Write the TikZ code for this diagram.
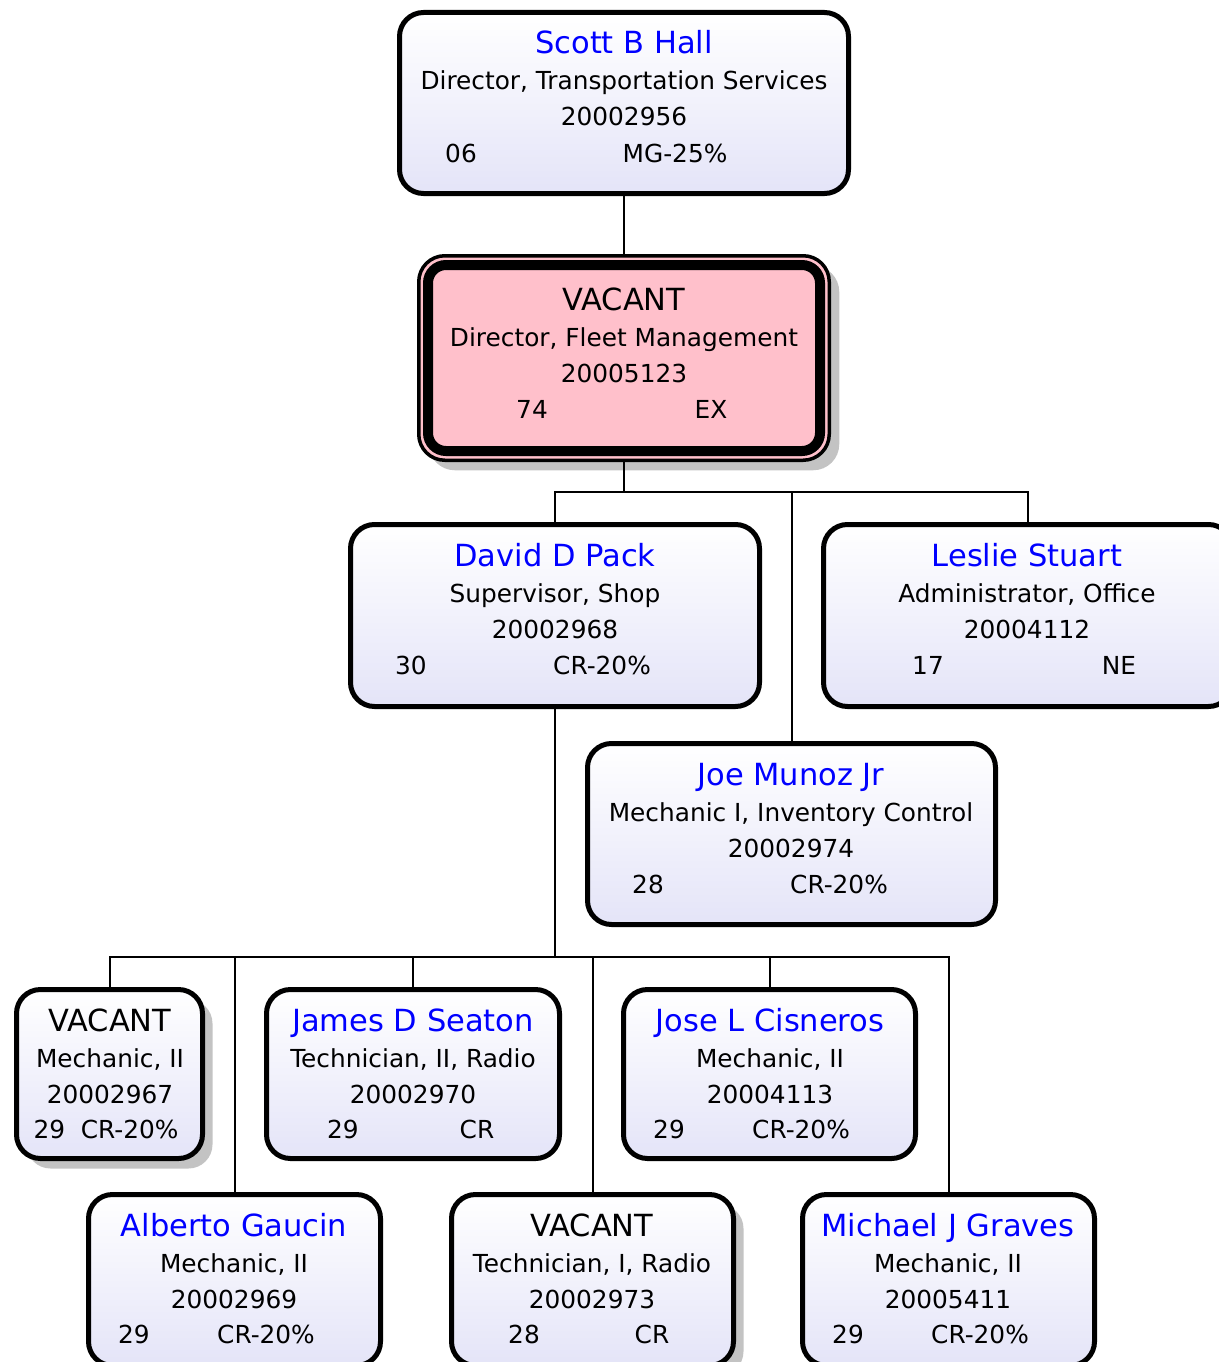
\documentclass[tikz,border=0pt]{standalone}
\usepackage{fontspec}
\setmainfont{DejaVu Sans}
\usetikzlibrary{calc,shadows}
\definecolor{lav}{RGB}{228,228,248}
\definecolor{namblue}{RGB}{0,0,255}
\definecolor{vpink}{RGB}{255,192,203}
\definecolor{shgray}{RGB}{195,195,195}
\tikzset{
  box/.style={draw=black, line width=5pt, rounded corners=24pt, top color=white, bottom color=lav, inner sep=0pt},
  vbox/.style={box, general shadow={shadow xshift=10pt, shadow yshift=-10pt, fill=shgray}},
  nm/.style={anchor=base, font=\fontsize{30.5}{36}\selectfont, text=namblue, inner sep=0pt},
  vc/.style={nm, text=black},
  tx/.style={anchor=base, font=\fontsize{24.8}{29}\selectfont, inner sep=0pt},
  link/.style={line width=2pt, draw=black},
}
% id, style, x1, y1, x2, y2
\newcommand\orgbox[6]{%
  \node[#2, minimum width={#5-#3-5}, minimum height={#6-#4-5}] (#1) at ({(#3+#5)/2},{(#4+#6)/2}) {};}
% id, cx, baseline of name, name style, name, title, number
\newcommand\orgtext[7]{%
  \node[#4] (#1-name) at (#2,{#3}) {#5};
  \node[tx] (#1-title) at (#2,{#3+36}) {#6};
  \node[tx] (#1-num) at (#2,{#3+72}) {#7};}
% id, baseline, left x, left text, right x, right text
\newcommand\orgrow[6]{%
  \node[tx] (#1-l) at (#3,{#2}) {#4};
  \node[tx] (#1-r) at (#5,{#2}) {#6};}
\begin{document}
\begin{tikzpicture}[x=1pt,y=-1pt]
\useasboundingbox (0,0) rectangle (1218,1362);

% top
\orgbox{scott}{box}{397}{10}{851}{196}
\orgtext{scott}{624}{54}{nm}{Scott B Hall}{Director, Transportation Services}{20002956}
\orgrow{scott}{162}{461}{06}{675}{MG-25\%}

% director vacant
\node[draw=black, line width=3.5pt, rounded corners=26pt, fill=vpink, inner sep=0pt,
      general shadow={shadow xshift=10pt, shadow yshift=-10pt, fill=shgray},
      minimum width=410.5, minimum height=204.5] (dir) at (624,358) {};
\draw[line width=10pt, rounded corners=18pt] (428,265) rectangle (820,451);
\orgtext{dir}{624}{310}{vc}{VACANT}{Director, Fleet Management}{20005123}
\orgrow{dir}{418}{532}{74}{711}{EX}

% second level
\orgbox{david}{box}{348}{522}{762}{709}
\orgtext{david}{555}{566}{nm}{David D Pack}{Supervisor, Shop}{20002968}
\orgrow{david}{674}{411}{30}{602}{CR-20\%}

\orgbox{leslie}{box}{821}{522}{1235}{709}
\orgtext{leslie}{1027}{566}{nm}{Leslie Stuart}{Administrator, Office}{20004112}
\orgrow{leslie}{674}{928}{17}{1119}{NE}

\orgbox{joe}{box}{585}{741}{998}{927}
\orgtext{joe}{791}{785}{nm}{Joe Munoz Jr}{Mechanic I, Inventory Control}{20002974}
\orgrow{joe}{893}{648}{28}{839}{CR-20\%}

% third level
\orgbox{vmech}{vbox}{14}{987}{205}{1161}
\orgtext{vmech}{110}{1031}{vc}{VACANT}{Mechanic, II}{20002967}
\node[tx] (vmech-row) at (106,1138) {29\ \ CR-20\%};

\orgbox{james}{box}{264}{987}{562}{1161}
\orgtext{james}{413}{1031}{nm}{James D Seaton}{Technician, II, Radio}{20002970}
\orgrow{james}{1138}{343}{29}{477}{CR}

\orgbox{jose}{box}{621}{987}{918}{1161}
\orgtext{jose}{770}{1031}{nm}{Jose L Cisneros}{Mechanic, II}{20004113}
\orgrow{jose}{1138}{669}{29}{801}{CR-20\%}

\orgbox{alberto}{box}{86}{1192}{383}{1368}
\orgtext{alberto}{234}{1236}{nm}{Alberto Gaucin}{Mechanic, II}{20002969}
\orgrow{alberto}{1343}{134}{29}{266}{CR-20\%}

\orgbox{vtech}{vbox}{449}{1192}{736}{1368}
\orgtext{vtech}{592}{1236}{vc}{VACANT}{Technician, I, Radio}{20002973}
\orgrow{vtech}{1343}{524}{28}{652}{CR}

\orgbox{michael}{box}{800}{1192}{1097}{1368}
\orgtext{michael}{948}{1236}{nm}{Michael J Graves}{Mechanic, II}{20005411}
\orgrow{michael}{1343}{848}{29}{980}{CR-20\%}

% connectors
\coordinate (bus1) at (624,492);
\coordinate (bus2) at (555,957);
\draw[link] (scott.south) -- (dir.north);
\draw[link] (dir.south) -- (bus1);
\draw[link] (david.north) |- (bus1) -| (leslie.north);
\draw[link] (joe.north) -- (joe.north |- bus1);
\draw[link] (david.south) -- (bus2);
\draw[link] (vmech.north) |- (bus2);
\draw[link] (bus2) -| (michael.north);
\draw[link] (alberto.north) -- (alberto.north |- bus2);
\draw[link] (james.north) -- (james.north |- bus2);
\draw[link] (vtech.north) -- (vtech.north |- bus2);
\draw[link] (jose.north) -- (jose.north |- bus2);
\end{tikzpicture}
\end{document}
